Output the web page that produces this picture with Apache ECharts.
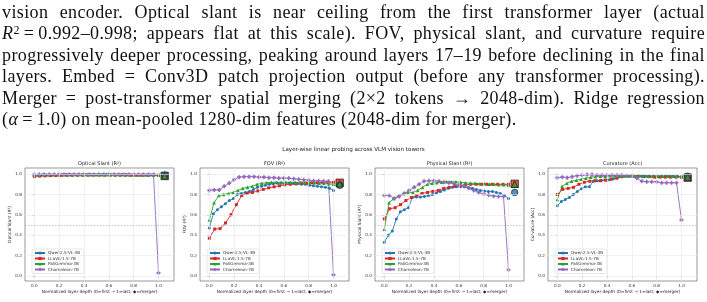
<!DOCTYPE html>
<html><head><meta charset="utf-8">
<script src="https://cdn.jsdelivr.net/npm/echarts@6/dist/echarts.min.js"></script>
<style>
html,body{margin:0;padding:0;background:#fff;width:707px;height:302px;overflow:hidden;}
#chart{position:absolute;left:0;top:0;width:707px;height:302px;}
#para{position:absolute;left:2px;top:2px;width:703px;font-family:"Liberation Serif",serif;font-size:18px;line-height:21.4px;letter-spacing:0.38px;color:#111;z-index:2;}
#para div{text-align:justify;text-align-last:justify;}
#para div.last{text-align-last:left;}
#para sup{font-size:12px;line-height:0;vertical-align:0.45em;}
</style></head>
<body>
<div id="para">
<div>vision encoder. Optical slant is near ceiling from the first transformer layer (actual</div>
<div><i>R</i><sup>2</sup>&#8201;=&#8201;0.992–0.998; appears flat at this scale). FOV, physical slant, and curvature require</div>
<div>progressively deeper processing, peaking around layers 17–19 before declining in the final</div>
<div>layers. Embed = Conv3D patch projection output (before any transformer processing).</div>
<div>Merger = post-transformer spatial merging (2×2 tokens → 2048-dim). Ridge regression</div>
<div class="last">(<i>α</i>&#8201;=&#8201;1.0) on mean-pooled 1280-dim features (2048-dim for merger).</div>
</div>
<div id="chart"></div>
<script>
// ---------- data ----------
const models = ['Qwen2.5-VL-3B', 'LLaVA-1.5-7B', 'PaliGemma-3B', 'Chameleon-7B'];
const panelTitles = ['Optical Slant (R²)', 'FOV (R²)', 'Physical Slant (R²)', 'Curvature (Acc)'];
const yAxisNames = ['Optical Slant (R²)', 'FOV (R²)', 'Physical Slant (R²)', 'Curvature (Acc)'];
const xAxisName = 'Normalized layer depth (0=first → 1=last; ◆=merger)';
const suptitle = 'Layer-wise linear probing across VLM vision towers';
const xTicks = [0, 0.2, 0.4, 0.6, 0.8, 1.0];
const yTicks = [0, 0.2, 0.4, 0.6, 0.8, 1.0];
const mergerX = 1.05;

// Optical slant
const qwenOptical = [0.990,0.992,0.993,0.993,0.994,0.994,0.994,0.995,0.995,0.995,0.995,0.995,0.995,0.995,0.995,0.995,0.995,0.995,0.995,0.995,0.995,0.995,0.995,0.995,0.994,0.994,0.994,0.994,0.993,0.993,0.993,0.992];
const llavaOptical = [0.975,0.980,0.983,0.985,0.986,0.987,0.988,0.988,0.989,0.989,0.990,0.990,0.990,0.990,0.990,0.990,0.990,0.990,0.989,0.989,0.989,0.988,0.988,0.988];
const paliOptical = [0.990,0.992,0.993,0.993,0.993,0.993,0.993,0.993,0.993,0.993,0.993,0.993,0.993,0.993,0.993,0.993,0.993,0.993,0.993,0.992,0.992,0.992,0.992,0.991,0.991,0.991,0.990];
const chamOptical = [0.995,0.996,0.996,0.996,0.997,0.997,0.997,0.997,0.997,0.997,0.997,0.997,0.997,0.997,0.997,0.997,0.997,0.997,0.996,0.996,0.996,0.996,0.995,0.995,0.995,0.03];
const mergerOptical = [0.992, 0.982, 0.982]; // Qwen, LLaVA, PaliGemma

// FOV
const qwenFOV = [0.47,0.61,0.65,0.68,0.71,0.74,0.76,0.80,0.81,0.82,0.83,0.85,0.87,0.88,0.89,0.90,0.905,0.91,0.91,0.91,0.91,0.91,0.905,0.90,0.90,0.89,0.885,0.88,0.875,0.87,0.86,0.84];
const llavaFOV = [0.37,0.46,0.465,0.52,0.60,0.70,0.79,0.81,0.82,0.835,0.85,0.865,0.875,0.885,0.895,0.90,0.905,0.91,0.91,0.915,0.915,0.92,0.92,0.92];
const paliFOV = [0.55,0.72,0.79,0.80,0.81,0.82,0.84,0.86,0.87,0.88,0.90,0.91,0.915,0.92,0.92,0.92,0.92,0.92,0.92,0.92,0.92,0.915,0.915,0.91,0.91,0.905,0.90];
const chamFOV = [0.84,0.845,0.845,0.88,0.91,0.945,0.97,0.975,0.975,0.975,0.97,0.97,0.965,0.965,0.96,0.96,0.96,0.955,0.95,0.945,0.94,0.935,0.935,0.93,0.93,0.01];
const mergerFOV = [0.89, 0.915, 0.905];

// Physical slant
const qwenPhys = [0.33,0.40,0.44,0.56,0.63,0.65,0.67,0.77,0.775,0.775,0.78,0.79,0.80,0.815,0.83,0.845,0.86,0.87,0.875,0.875,0.875,0.87,0.86,0.85,0.84,0.835,0.83,0.83,0.82,0.81,0.79,0.76];
const llavaPhys = [0.56,0.66,0.67,0.70,0.74,0.77,0.79,0.81,0.82,0.83,0.84,0.86,0.87,0.88,0.89,0.895,0.90,0.90,0.90,0.90,0.90,0.90,0.90,0.90];
const paliPhys = [0.46,0.72,0.76,0.79,0.81,0.82,0.82,0.84,0.87,0.90,0.91,0.915,0.92,0.925,0.925,0.925,0.92,0.915,0.91,0.91,0.905,0.905,0.90,0.90,0.895,0.895,0.89];
const chamPhys = [0.79,0.79,0.76,0.78,0.81,0.84,0.87,0.90,0.93,0.935,0.935,0.93,0.92,0.915,0.905,0.89,0.88,0.86,0.84,0.82,0.805,0.795,0.785,0.78,0.78,0.06];
const mergerPhys = [0.82, 0.905, 0.90];

// Curvature
const qwenCurv = [0.69,0.73,0.75,0.77,0.80,0.83,0.855,0.875,0.875,0.93,0.935,0.94,0.945,0.945,0.955,0.965,0.975,0.98,0.98,0.98,0.98,0.98,0.98,0.98,0.98,0.98,0.98,0.98,0.98,0.978,0.978,0.975];
const llavaCurv = [0.80,0.85,0.86,0.87,0.90,0.92,0.93,0.935,0.935,0.94,0.95,0.96,0.975,0.98,0.98,0.98,0.975,0.975,0.97,0.97,0.97,0.97,0.97,0.97];
const paliCurv = [0.75,0.88,0.91,0.93,0.94,0.95,0.96,0.97,0.975,0.98,0.98,0.985,0.985,0.985,0.985,0.985,0.985,0.985,0.985,0.98,0.98,0.98,0.98,0.98,0.98,0.98,0.975];
const chamCurv = [0.965,0.97,0.965,0.975,0.985,0.99,0.995,0.995,0.99,0.99,0.99,0.99,0.99,0.99,0.985,0.985,0.96,0.93,0.925,0.925,0.925,0.915,0.915,0.915,0.915,0.55];
const mergerCurv = [0.98, 0.965, 0.97];

// ---------- presentation ----------
const panels = [
  [qwenOptical, llavaOptical, paliOptical, chamOptical, mergerOptical],
  [qwenFOV, llavaFOV, paliFOV, chamFOV, mergerFOV],
  [qwenPhys, llavaPhys, paliPhys, chamPhys, mergerPhys],
  [qwenCurv, llavaCurv, paliCurv, chamCurv, mergerCurv]
];
const colors = ['#1f77b4', '#d62728', '#2ca02c', '#9467bd'];
const plusPath = 'path://M3,0H7V3H10V7H7V10H3V7H0V3H3Z';
const symbols = ['circle', 'rect', 'triangle', plusPath];
const symSizes = [3, 3, 3.6, 4];
const mergerSym = ['circle', 'rect', 'triangle'];
const mergerSize = [6.5, 7.5, 6.5];
const mergerOrder = [1, 0, 2];

const gridLefts = [25, 200, 375, 548];
const gridW = 149, gridTop = 168, gridH = 113;
const FONT = 'DejaVu Sans';

const grids = [], xAxes = [], yAxes = [], series = [], legends = [], titles = [];

titles.push({text: suptitle, left: 353.5, top: 147, textAlign: 'center', padding: 0,
  textStyle: {fontFamily: FONT, fontSize: 5.6, fontWeight: 'normal', color: '#222'}});

panels.forEach((p, gi) => {
  const gl = gridLefts[gi];
  grids.push({left: gl, top: gridTop, width: gridW, height: gridH, show: true,
    borderColor: '#555', borderWidth: 0.6, backgroundColor: 'transparent', containLabel: false});
  titles.push({text: panelTitles[gi], left: gl + gridW / 2, top: 161.3, textAlign: 'center', padding: 0,
    textStyle: {fontFamily: FONT, fontSize: 5, fontWeight: 'normal', color: '#222'}});
  xAxes.push({gridIndex: gi, type: 'value', min: -0.075, max: 1.125,
    name: xAxisName, nameLocation: 'middle', nameGap: 8.5,
    nameTextStyle: {fontFamily: FONT, fontSize: 4.3, color: '#222'},
    axisLine: {show: false},
    axisTick: {show: true, length: 2, customValues: xTicks, lineStyle: {color: '#555', width: 0.5}},
    axisLabel: {customValues: xTicks, formatter: v => v.toFixed(1), fontFamily: FONT, fontSize: 4.2, color: '#333', margin: 3},
    splitLine: {show: false}});
  yAxes.push({gridIndex: gi, type: 'value', min: -0.05, max: 1.06,
    name: yAxisNames[gi], nameLocation: 'middle', nameGap: 9.5,
    nameTextStyle: {fontFamily: FONT, fontSize: 4.3, color: '#222'},
    axisLine: {show: false},
    axisTick: {show: true, length: 2, customValues: yTicks, lineStyle: {color: '#555', width: 0.5}},
    axisLabel: {customValues: yTicks, formatter: v => v.toFixed(1), fontFamily: FONT, fontSize: 4.2, color: '#333', margin: 3},
    splitLine: {show: false}});
  series.push({type: 'line', xAxisIndex: gi, yAxisIndex: gi, data: [], silent: true, z: 1,
    markLine: {silent: true, symbol: 'none', animation: false, label: {show: false},
      lineStyle: {color: '#e8e8e8', width: 0.6, type: 'solid'},
      data: xTicks.map(v => ({xAxis: v})).concat(yTicks.map(v => ({yAxis: v})))
        .concat([{yAxis: 0.5, lineStyle: {color: '#b0b0b0', width: 0.7, type: [1.5, 1.5]}}])}});
  for (let m = 0; m < 4; m++) {
    const vals = p[m];
    series.push({name: models[m], type: 'line', xAxisIndex: gi, yAxisIndex: gi, z: 3,
      data: vals.map((v, i) => [i / (vals.length - 1), v]),
      symbol: symbols[m], symbolSize: symSizes[m], showSymbol: true,
      lineStyle: {color: colors[m], width: 0.9}, itemStyle: {color: colors[m]},
      animation: false, silent: true});
  }
  mergerOrder.forEach(m => {
    series.push({name: models[m] + ' merger', type: 'scatter', xAxisIndex: gi, yAxisIndex: gi, z: 4,
      data: [[mergerX, p[4][m]]], symbol: mergerSym[m], symbolSize: mergerSize[m],
      itemStyle: {color: colors[m], borderColor: '#111', borderWidth: 0.8}, animation: false, silent: true});
  });
  legends.push({data: models, orient: 'vertical', left: gl + 7, top: 249,
    itemWidth: 10, itemHeight: 4, itemGap: 1.5, padding: [2, 4, 2, 2],
    textStyle: {fontFamily: FONT, fontSize: 4.2, color: '#333', padding: [0, 0, 0, -2]},
    borderColor: '#ccc', borderWidth: 0.5, borderRadius: 1.5, backgroundColor: 'rgba(255,255,255,0.85)',
    selectedMode: false});
});

const chart = echarts.init(document.getElementById('chart'), null, {renderer: 'canvas', width: 707, height: 302});
chart.setOption({animation: false, backgroundColor: 'transparent', title: titles, grid: grids,
  xAxis: xAxes, yAxis: yAxes, legend: legends, series: series});
</script>
</body></html>
